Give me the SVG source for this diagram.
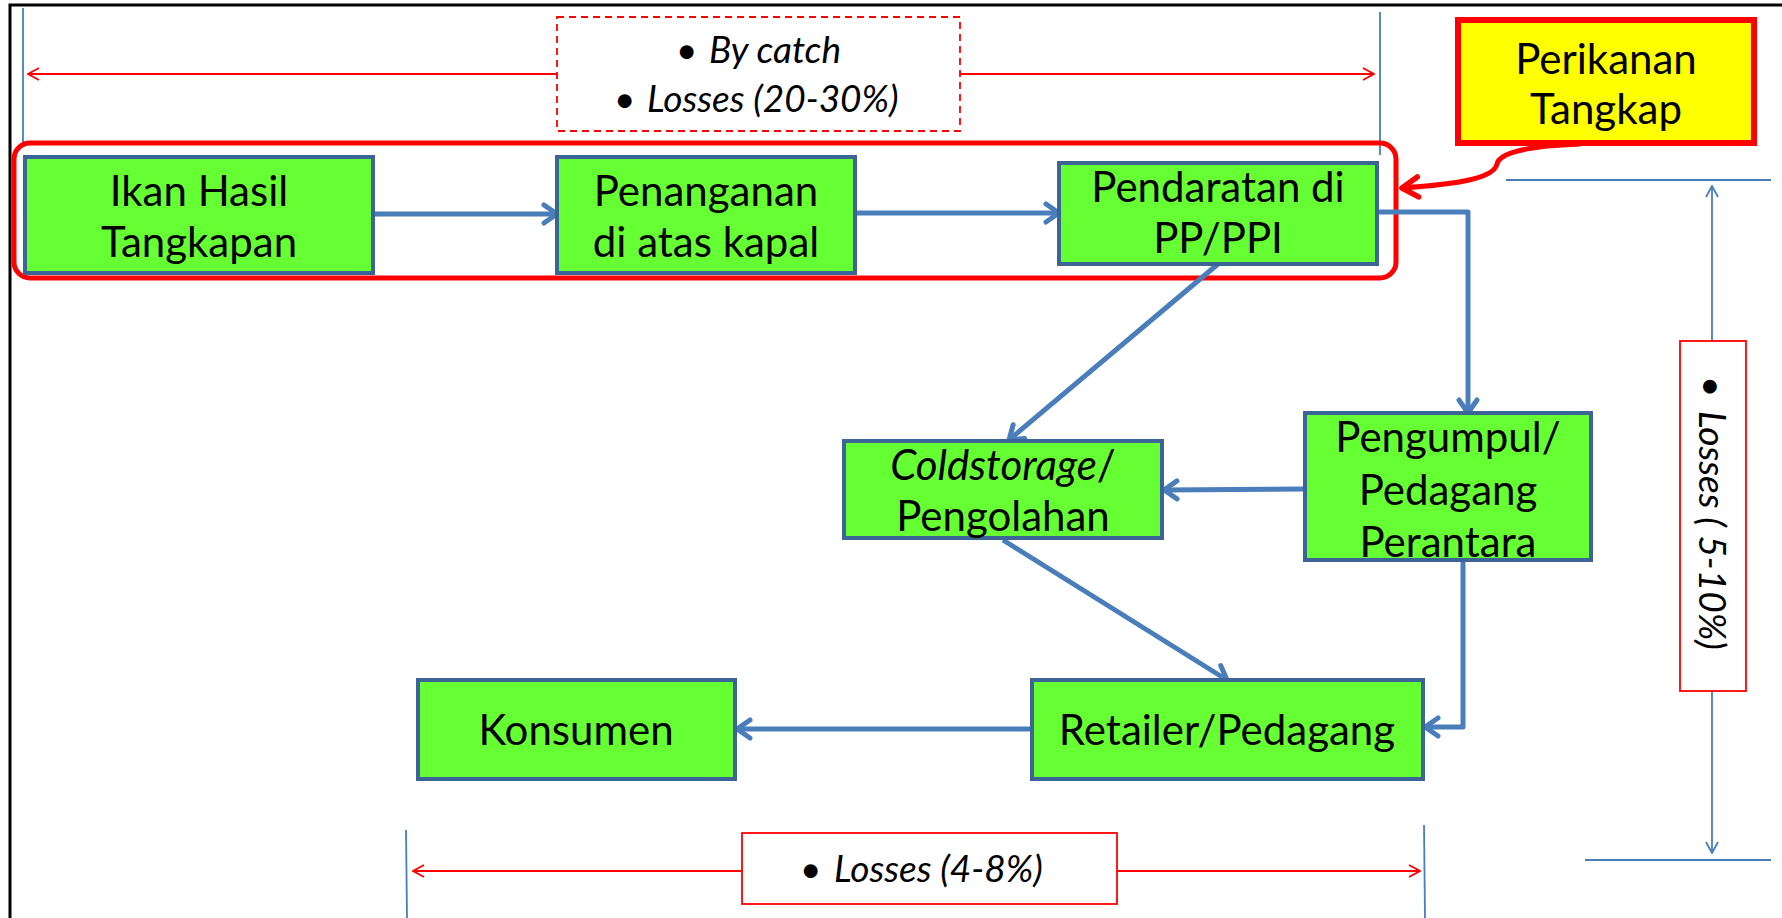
<svg xmlns="http://www.w3.org/2000/svg" width="1782" height="918" viewBox="0 0 1782 918">
<defs>
<style>
.node{fill:#66ff33;stroke:#3c6496;stroke-width:4}
.t{font-family:Lato,"Open Sans",sans-serif;font-size:42px;fill:#000;text-anchor:middle}
.ti{font-family:Lato,"Open Sans",sans-serif;font-size:37px;font-style:italic;fill:#000}
.conn{fill:none;stroke:#4a7ebb;stroke-width:5;stroke-linejoin:round}
.dimr{fill:none;stroke:#ff0000;stroke-width:1.8}
.dimb{fill:none;stroke:#4a7ebb;stroke-width:1.8}
</style>
<marker id="ab" viewBox="0 0 24 24" refX="20" refY="12" markerWidth="24" markerHeight="24" markerUnits="userSpaceOnUse" orient="auto">
<path d="M7,3 L20,12 L7,21" fill="none" stroke="#4a7ebb" stroke-width="5" stroke-linecap="round" stroke-linejoin="round"/>
</marker>
<marker id="ar" viewBox="0 0 16 16" refX="15" refY="8" markerWidth="16" markerHeight="16" markerUnits="userSpaceOnUse" orient="auto-start-reverse">
<path d="M4,2 L15,8 L4,14" fill="none" stroke="#ff0000" stroke-width="1.8"/>
</marker>
<marker id="abt" viewBox="0 0 16 16" refX="15" refY="8" markerWidth="16" markerHeight="16" markerUnits="userSpaceOnUse" orient="auto-start-reverse">
<path d="M4,2 L15,8 L4,14" fill="none" stroke="#4a7ebb" stroke-width="1.8"/>
</marker>
<marker id="arc" viewBox="0 0 26 26" refX="22" refY="13" markerWidth="26" markerHeight="26" markerUnits="userSpaceOnUse" orient="auto">
<path d="M6,3 L22,13 L6,23" fill="none" stroke="#ff0000" stroke-width="5.5" stroke-linecap="round" stroke-linejoin="round"/>
</marker>
</defs>
<rect width="1782" height="918" fill="#ffffff"/>
<!-- frame -->
<path d="M10,918 L10,5 L1782,5" fill="none" stroke="#000" stroke-width="3"/>

<!-- dimension lines -->
<g id="dimensions">
<line class="dimb" x1="23" y1="8" x2="23" y2="145"/>
<line class="dimb" x1="1380" y1="12" x2="1380" y2="155"/>
<line class="dimr" x1="28" y1="74" x2="557" y2="74" marker-start="url(#ar)"/>
<line class="dimr" x1="960" y1="74" x2="1374" y2="74" marker-end="url(#ar)"/>
<line class="dimb" x1="1506" y1="180" x2="1771" y2="180"/>
<line class="dimb" x1="1585" y1="860" x2="1771" y2="860"/>
<line class="dimb" x1="1712" y1="186" x2="1712" y2="341" marker-start="url(#abt)"/>
<line class="dimb" x1="1712" y1="691" x2="1712" y2="853" marker-end="url(#abt)"/>
<line class="dimb" x1="406" y1="830" x2="407" y2="918"/>
<line class="dimb" x1="1424" y1="825" x2="1425" y2="918"/>
<line class="dimr" x1="413" y1="871" x2="742" y2="871" marker-start="url(#ar)"/>
<line class="dimr" x1="1117" y1="871" x2="1420" y2="871" marker-end="url(#ar)"/>
</g>

<g id="label-bycatch">
<rect x="557" y="17" width="403" height="114" fill="#fff" stroke="#ff0000" stroke-width="1.8" stroke-dasharray="7,5"/>
<text class="ti" x="676" y="63">•</text>
<text class="ti" x="709" y="63">By catch</text>
<text class="ti" x="614" y="112">•</text>
<text class="ti" x="647" y="112">Losses (20-30%)</text>
</g>

<g id="label-losses-4-8">
<rect x="742" y="833" width="375" height="71" fill="#fff" stroke="#ff0000" stroke-width="1.8"/>
<text class="ti" x="800" y="882" font-size="39">•</text>
<text class="ti" x="834" y="882" font-size="39">Losses (4-8%)</text>
</g>

<g id="label-losses-5-10">
<rect x="1680" y="341" width="66" height="350" fill="#fff" stroke="#ff0000" stroke-width="1.8"/>
<g transform="translate(1699,376) rotate(90)">
<text class="ti" x="0" y="0" font-size="46">•</text>
<text class="ti" x="35" y="0" font-size="46">Losses ( 5-10%)</text>
</g>
</g>

<g id="group-tangkap">
<rect x="14" y="143" width="1382" height="135" rx="16" ry="16" fill="none" stroke="#ff0000" stroke-width="5"/>
</g>

<g id="connectors">
<line class="conn" x1="373" y1="214" x2="557" y2="214" marker-end="url(#ab)"/>
<line class="conn" x1="855" y1="213" x2="1059" y2="213" marker-end="url(#ab)"/>
<polyline class="conn" points="1377,212 1468,212 1468,413" marker-end="url(#ab)"/>
<line class="conn" x1="1218" y1="264" x2="1009" y2="440" marker-end="url(#ab)"/>
<line class="conn" x1="1305" y1="489" x2="1164" y2="490" marker-end="url(#ab)"/>
<line class="conn" x1="1003" y1="540" x2="1227" y2="680" marker-end="url(#ab)"/>
<polyline class="conn" points="1463,560 1463,727 1425,727" marker-end="url(#ab)"/>
<line class="conn" x1="1032" y1="729" x2="737" y2="729" marker-end="url(#ab)"/>
</g>

<g id="node-ikan">
<rect class="node" x="25" y="157" width="348" height="116"/>
<text class="t" x="199" y="206">Ikan Hasil</text>
<text class="t" x="199" y="257">Tangkapan</text>
</g>
<g id="node-penanganan">
<rect class="node" x="557" y="157" width="298" height="116"/>
<text class="t" x="706" y="206">Penanganan</text>
<text class="t" x="706" y="257">di atas kapal</text>
</g>
<g id="node-pendaratan">
<rect class="node" x="1059" y="163" width="318" height="101"/>
<text class="t" x="1218" y="202">Pendaratan di</text>
<text class="t" x="1218" y="253">PP/PPI</text>
</g>
<g id="node-coldstorage">
<rect class="node" x="844" y="441" width="318" height="97"/>
<text class="t" x="1003" y="480"><tspan font-style="italic">Coldstorage</tspan>/</text>
<text class="t" x="1003" y="531">Pengolahan</text>
</g>
<g id="node-pengumpul">
<rect class="node" x="1305" y="413" width="286" height="147"/>
<text class="t" x="1448" y="452">Pengumpul/</text>
<text class="t" x="1448" y="505">Pedagang</text>
<text class="t" x="1448" y="557">Perantara</text>
</g>
<g id="node-retailer">
<rect class="node" x="1032" y="680" width="391" height="99"/>
<text class="t" x="1227" y="745">Retailer/Pedagang</text>
</g>
<g id="node-konsumen">
<rect class="node" x="418" y="680" width="317" height="99"/>
<text class="t" x="576" y="745">Konsumen</text>
</g>

<g id="callout-perikanan">
<rect x="1458" y="20" width="296" height="123" fill="#ffff00" stroke="#ff0000" stroke-width="6"/>
<text class="t" x="1606" y="74" font-size="46">Perikanan</text>
<text class="t" x="1606" y="124" font-size="46">Tangkap</text>
<path d="M1580,144 C1530,146 1500,152 1497,164 C1494,178 1460,184 1402,188" fill="none" stroke="#ff0000" stroke-width="5" stroke-linecap="round" marker-end="url(#arc)"/>
</g>
</svg>
